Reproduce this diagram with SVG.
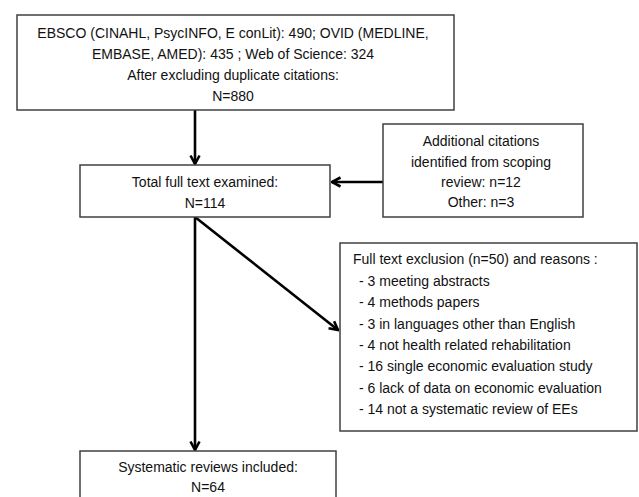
<svg xmlns="http://www.w3.org/2000/svg" width="639" height="497" viewBox="0 0 639 497">
<style>
.box{fill:#fff;stroke:#404040;stroke-width:1.5}
.t{font-family:"Liberation Sans",Arial,sans-serif;font-size:14px;fill:#111}
.c{text-anchor:middle}
.conn{stroke:#000;stroke-width:2.6;fill:none}
</style>
<defs>
<marker id="ah" viewBox="0 0 12 12" refX="10.5" refY="6" markerWidth="12" markerHeight="12" markerUnits="userSpaceOnUse" orient="auto">
<path d="M2,1.5 L10.5,6 L2,10.5" fill="none" stroke="#000" stroke-width="2.6"/>
</marker>
</defs>
<rect width="639" height="497" fill="#fff"/>
<g id="connectors">
<line class="conn" x1="195" y1="110" x2="195" y2="164" marker-end="url(#ah)"/>
<line class="conn" x1="383" y1="182" x2="332" y2="182" marker-end="url(#ah)"/>
<line class="conn" x1="195" y1="217" x2="338" y2="330" marker-end="url(#ah)"/>
<line class="conn" x1="195" y1="217" x2="195" y2="450" marker-end="url(#ah)"/>
</g>
<g id="search">
<rect class="box" x="17" y="15" width="437" height="95"/>
<text class="t c" x="233" y="38">EBSCO (CINAHL, PsycINFO, E conLit): 490; OVID (MEDLINE,</text>
<text class="t c" x="233" y="59">EMBASE, AMED): 435 ; Web of Science: 324</text>
<text class="t c" x="233" y="80">After excluding duplicate citations:</text>
<text class="t c" x="233" y="101">N=880</text>
</g>
<g id="total">
<rect class="box" x="80" y="165" width="250" height="52"/>
<text class="t c" x="205" y="187">Total full text examined:</text>
<text class="t c" x="205" y="208">N=114</text>
</g>
<g id="additional">
<rect class="box" x="383" y="124" width="200" height="93"/>
<text class="t c" x="481" y="146">Additional citations</text>
<text class="t c" x="481" y="167">identified from scoping</text>
<text class="t c" x="481" y="187">review:  n=12</text>
<text class="t c" x="481" y="207">Other: n=3</text>
</g>
<g id="exclusion">
<rect class="box" x="340" y="243" width="297" height="188"/>
<text class="t" x="353" y="264">Full text exclusion (n=50) and reasons :</text>
<text class="t" x="359" y="286">- 3 meeting abstracts</text>
<text class="t" x="359" y="307">- 4 methods papers</text>
<text class="t" x="359" y="329">- 3 in languages other than English</text>
<text class="t" x="359" y="350">- 4 not health related rehabilitation</text>
<text class="t" x="359" y="371">- 16 single economic evaluation study</text>
<text class="t" x="359" y="393">- 6 lack of data on economic evaluation</text>
<text class="t" x="359" y="414">- 14 not a systematic review of EEs</text>
</g>
<g id="included">
<rect class="box" x="80" y="451" width="256" height="60"/>
<text class="t c" x="208" y="472">Systematic reviews included:</text>
<text class="t c" x="208" y="492">N=64</text>
</g>
</svg>
